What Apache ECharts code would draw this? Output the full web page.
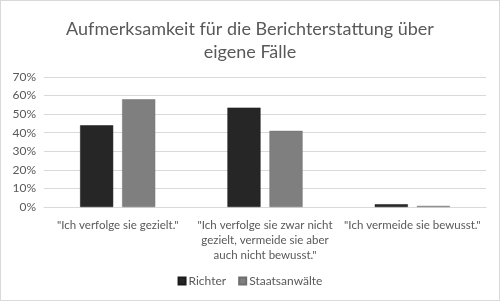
<!DOCTYPE html>
<html>
<head>
<meta charset="utf-8">
<script src="https://cdn.jsdelivr.net/npm/echarts@6/dist/echarts.min.js"></script>
<style>
  html, body { margin: 0; padding: 0; background: #fff; }
  #chart { width: 498px; height: 299px; border: 1px solid #d9d9d9; }
</style>
</head>
<body>
<div id="chart"></div>
<script>
const categories = [
  '"Ich verfolge sie gezielt."',
  '"Ich verfolge sie zwar nicht\ngezielt, vermeide sie aber\nauch nicht bewusst."',
  '"Ich vermeide sie bewusst."'
];
const richter = [44, 53.5, 1.5];
const staatsanwaelte = [58, 41, 0.6];
const yTicks = [0, 10, 20, 30, 40, 50, 60, 70];

const chart = echarts.init(document.getElementById('chart'));
chart.setOption({
  animation: false,
  textStyle: { fontFamily: 'Lato', color: '#595959' },
  title: {
    text: 'Aufmerksamkeit für die Berichterstattung über\neigene Fälle',
    left: 'center',
    top: 12,
    textStyle: { fontSize: 18, fontWeight: 'normal', color: '#595959', lineHeight: 23, fontFamily: 'Lato' }
  },
  legend: {
    bottom: 8,
    left: 'center',
    itemWidth: 7,
    itemHeight: 7,
    itemGap: 12,
    icon: 'rect',
    textStyle: { fontSize: 12, color: '#595959', padding: [0, 0, 0, -2] },
    data: ['Richter', 'Staatsanwälte']
  },
  grid: { left: 43, right: 13, top: 76, bottom: 93 },
  xAxis: {
    type: 'category',
    data: categories,
    axisLine: { show: true, lineStyle: { color: '#d9d9d9' } },
    axisTick: { show: false },
    axisLabel: { fontSize: 11.5, color: '#595959', lineHeight: 15, margin: 11, interval: 0 }
  },
  yAxis: {
    type: 'value',
    min: yTicks[0],
    max: yTicks[yTicks.length - 1],
    interval: 10,
    axisLine: { show: false },
    axisTick: { show: false },
    splitLine: { lineStyle: { color: '#d9d9d9' } },
    axisLabel: { fontSize: 12, color: '#595959', formatter: '{value}%', margin: 8 }
  },
  series: [
    {
      name: 'Richter',
      type: 'bar',
      data: richter,
      barGap: '27%',
      barCategoryGap: '49%',
      itemStyle: { color: '#262626', borderColor: '#1a1a1a', borderWidth: 0.5 }
    },
    {
      name: 'Staatsanwälte',
      type: 'bar',
      data: staatsanwaelte,
      itemStyle: { color: '#7f7f7f', borderColor: '#6e6e6e', borderWidth: 0.5 }
    }
  ]
});
</script>
</body>
</html>
